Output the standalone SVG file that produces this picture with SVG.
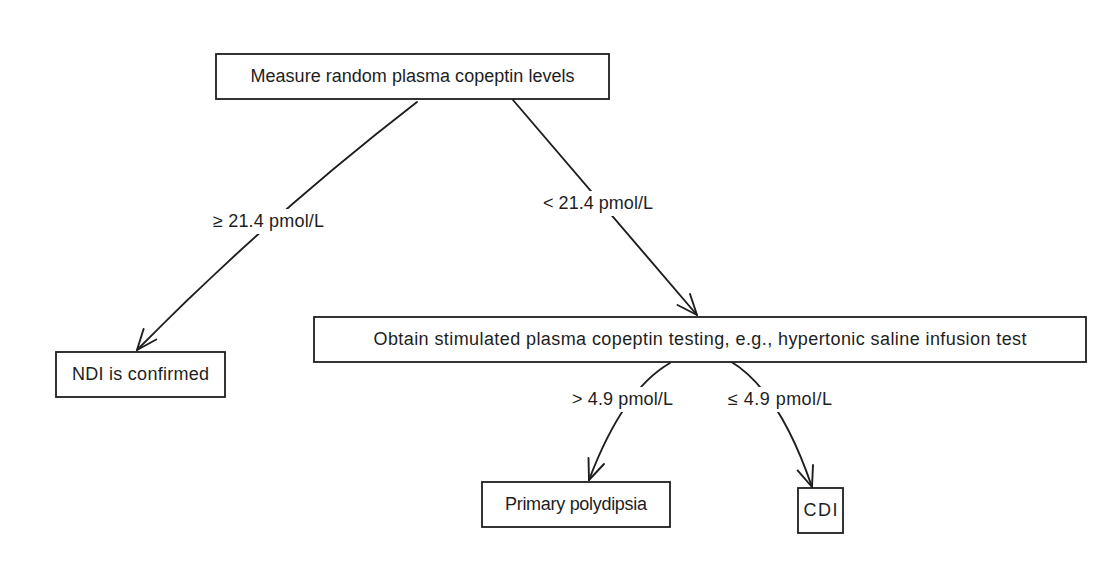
<svg xmlns="http://www.w3.org/2000/svg" width="1112" height="563" viewBox="0 0 1112 563">
<style>
.box{fill:#ffffff;stroke:#1e1e1e;stroke-width:1.8}
.lbl{font-family:"Liberation Sans",Arial,sans-serif;font-size:18px;fill:#1e1e1e;text-anchor:middle}
.edge{fill:none;stroke:#1e1e1e;stroke-width:1.9;stroke-linecap:round;stroke-linejoin:round}
.bg{fill:#ffffff}
</style>
<rect width="1112" height="563" fill="#ffffff"/>
<g id="connectors">
<path class="edge" d="M417,102 Q268,217 137,350"/>
<path class="edge" d="M156.3,339.5 L137,350 L143.6,329"/>
<path class="edge" d="M513,100 L697,315"/>
<path class="edge" d="M690,294 L697,315 L677.5,305"/>
<path class="edge" d="M670,363 Q623,390 589,480"/>
<path class="edge" d="M604,464 L589,480 L588.5,458"/>
<path class="edge" d="M730,361 Q779,390 812,487"/>
<path class="edge" d="M813,465 L812,487 L797.6,470.4"/>
<g id="edge-labels">
<rect class="bg" x="208" y="209" width="121" height="25"/>
<text class="lbl" x="268.5" y="227" textLength="111">≥ 21.4 pmol/L</text>
<rect class="bg" x="538" y="191" width="120" height="25"/>
<text class="lbl" x="598" y="209" textLength="110">&lt; 21.4 pmol/L</text>
<rect class="bg" x="567" y="387" width="111" height="25"/>
<text class="lbl" x="622.5" y="405" textLength="101">&gt; 4.9 pmol/L</text>
<rect class="bg" x="723" y="387" width="114" height="25"/>
<text class="lbl" x="780" y="405" textLength="104">≤ 4.9 pmol/L</text>
</g>
</g>
<g id="node-measure">
<rect class="box" x="216" y="54" width="393" height="45"/>
<text class="lbl" x="412.5" y="82" textLength="324">Measure random plasma copeptin levels</text>
</g>
<g id="node-stimulated">
<rect class="box" x="314" y="317" width="772" height="45"/>
<text class="lbl" x="700" y="345" textLength="653">Obtain stimulated plasma copeptin testing, e.g., hypertonic saline infusion test</text>
</g>
<g id="node-ndi">
<rect class="box" x="56" y="352" width="169" height="45"/>
<text class="lbl" x="140.5" y="380" textLength="137">NDI is confirmed</text>
</g>
<g id="node-primary">
<rect class="box" x="482" y="482" width="188" height="45"/>
<text class="lbl" x="576" y="510" textLength="142">Primary polydipsia</text>
</g>
<g id="node-cdi">
<rect class="box" x="798" y="488" width="45" height="45"/>
<text class="lbl" x="820.5" y="516" textLength="34">CDI</text>
</g>
</svg>
